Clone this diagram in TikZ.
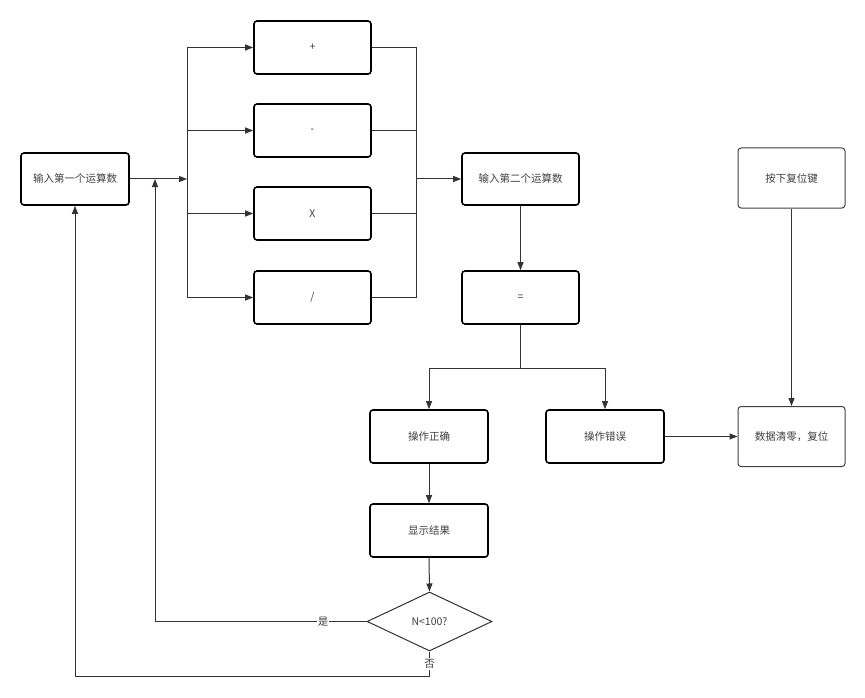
\documentclass[tikz,border=0pt]{standalone}
\usepackage{fontspec}
\setmainfont{Noto Sans CJK SC}
\usetikzlibrary{arrows.meta,shapes.geometric}
\begin{document}
\begin{tikzpicture}[x=1pt,y=-1pt,
  font=\fontsize{10.5}{12}\selectfont,
  box/.style={draw=black,line width=1.6pt,rounded corners=3pt,fill=white,inner sep=0pt,text=black!75},
  tbox/.style={draw=black!75,line width=1pt,rounded corners=3pt,fill=white,inner sep=0pt,text=black!75},
  conn/.style={draw=black!80,line width=1pt},
  arr/.style={conn,-{Triangle[length=8pt,width=6pt]}},
  lbl/.style={fill=white,inner sep=1pt,text=black!75}]
\useasboundingbox (0,0) rectangle (865,698);
% nodes
\node[box,minimum width=108pt,minimum height=52pt] (in1) at (75,179) {输入第一个运算数};
\node[box,minimum width=117pt,minimum height=53pt] (add) at (312.5,47.5) {+};
\node[box,minimum width=117pt,minimum height=53pt] (sub) at (312.5,130.5) {-};
\node[box,minimum width=117pt,minimum height=53pt] (mul) at (312.5,213.5) {X};
\node[box,minimum width=117pt,minimum height=53pt] (div) at (312.5,297.5) {/};
\node[box,minimum width=117pt,minimum height=52pt] (in2) at (520.5,179) {输入第二个运算数};
\node[box,minimum width=117pt,minimum height=53pt] (eq) at (520.5,297.5) {=};
\node[box,minimum width=118pt,minimum height=53pt] (ok) at (429,436.5) {操作正确};
\node[box,minimum width=118pt,minimum height=53pt] (err) at (605,436.5) {操作错误};
\node[box,minimum width=118pt,minimum height=53pt] (show) at (429,530.5) {显示结果};
\node[diamond,draw=black!80,line width=1pt,fill=white,minimum width=125pt,minimum height=59pt,inner sep=0pt,aspect=2.1,text=black!75] (cond) at (429.5,621.5) {N<100?};
\node[tbox,minimum width=107pt,minimum height=60pt] (rst) at (791.5,178) {按下复位键};
\node[tbox,minimum width=107pt,minimum height=60pt] (clr) at (791.5,436.5) {数据清零，复位};
% coordinates
\coordinate (sl) at (187,179);
\coordinate (sr) at (416,179);
\coordinate (split) at (520.5,368);
% left split
\draw[arr] (in1.east) -- (sl);
\draw[conn] (187,47.5) -- (187,297.5);
\draw[arr] (187,47.5) -- (add.west);
\draw[arr] (187,130.5) -- (sub.west);
\draw[arr] (187,213.5) -- (mul.west);
\draw[arr] (187,297.5) -- (div.west);
% right merge
\draw[conn] (add.east) -- (416,47.5) -- (416,297.5) -- (div.east);
\draw[conn] (sub.east) -- (416,130.5);
\draw[conn] (mul.east) -- (416,213.5);
\draw[arr] (sr) -- (in2.west);
% down
\draw[arr] (in2.south) -- (eq.north);
\draw[conn] (eq.south) -- (split);
\draw[arr] (split) -| (ok.north);
\draw[arr] (split) -| (err.north);
\draw[arr] (err.east) -- (clr.west);
\draw[arr] (rst.south) -- (clr.north);
\draw[arr] (ok.south) -- (show.north);
\draw[arr] (show.south) -- (cond.north);
% loops
\draw[arr] (cond.west) -- (155,621.5) -- (155,179);
\node[lbl] at (323,621.5) {是};
\draw[arr] (cond.south) -- (429.5,676) -- (75,676) -- (in1.south);
\node[lbl] at (429.5,664) {否};
\end{tikzpicture}
\end{document}
